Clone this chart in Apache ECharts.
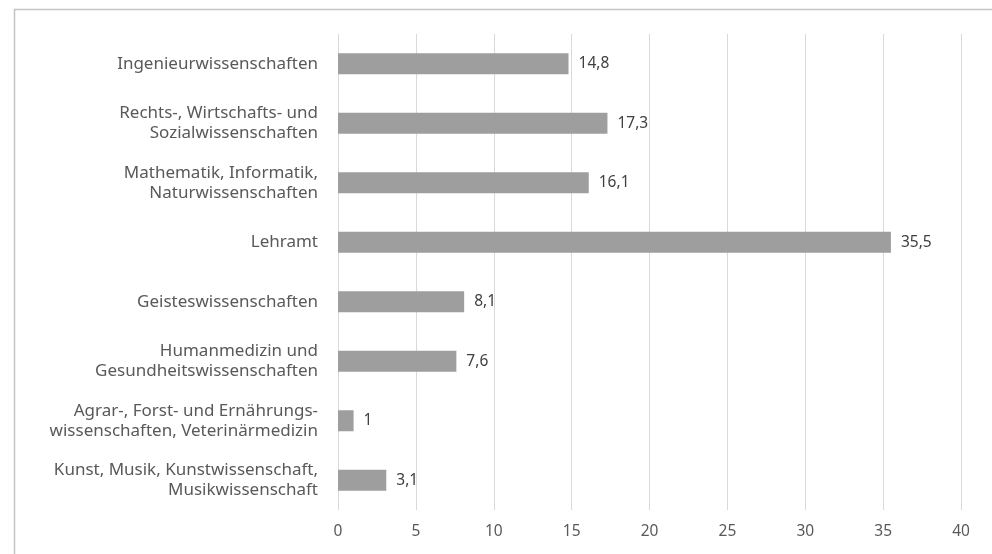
<!DOCTYPE html>
<html>
<head>
<meta charset="utf-8">
<script src="https://cdn.jsdelivr.net/npm/echarts@6/dist/echarts.min.js"></script>
<style>
html,body{margin:0;padding:0;background:#fff;}
#c{width:992px;height:554px;}
</style>
</head>
<body>
<div id="c"></div>
<script>
const categories = [
  "Ingenieurwissenschaften",
  "Rechts-, Wirtschafts- und\nSozialwissenschaften",
  "Mathematik, Informatik,\nNaturwissenschaften",
  "Lehramt",
  "Geisteswissenschaften",
  "Humanmedizin und\nGesundheitswissenschaften",
  "Agrar-, Forst- und Ernährungs-\nwissenschaften, Veterinärmedizin",
  "Kunst, Musik, Kunstwissenschaft,\nMusikwissenschaft"
];
const values = [14.8, 17.3, 16.1, 35.5, 8.1, 7.6, 1, 3.1];
const xTicks = [0, 5, 10, 15, 20, 25, 30, 35, 40];

const font = "'Source Sans Pro', 'Noto Sans', sans-serif";
const chart = echarts.init(document.getElementById('c'), null, {renderer: 'canvas'});
chart.setOption({
  animation: false,
  backgroundColor: '#fff',
  graphic: [{
    type: 'rect',
    shape: {x: 14.5, y: 9.5, width: 1200, height: 800},
    style: {fill: 'none', stroke: '#c4c4c4', lineWidth: 1.5},
    silent: true
  }],
  grid: {left: 338, right: 31, top: 34, bottom: 44, containLabel: false},
  xAxis: {
    type: 'value',
    min: xTicks[0],
    max: xTicks[xTicks.length - 1],
    interval: 5,
    axisLine: {show: false},
    axisTick: {show: false},
    splitLine: {lineStyle: {color: '#d9d9d9', width: 1}},
    axisLabel: {color: '#595959', fontSize: 15.5, fontFamily: font, margin: 14}
  },
  yAxis: {
    type: 'category',
    inverse: true,
    data: categories,
    axisLine: {show: false},
    axisTick: {show: false},
    axisLabel: {color: '#595959', fontSize: 17, fontFamily: font, margin: 20, lineHeight: 20, align: 'right'}
  },
  series: [{
    type: 'bar',
    data: values,
    barWidth: 21,
    itemStyle: {color: '#9e9e9e'},
    label: {
      show: true,
      position: 'right',
      distance: 10,
      color: '#404040',
      fontSize: 15.5,
      fontFamily: font,
      formatter: p => String(p.value).replace('.', ',')
    }
  }]
});
</script>
</body>
</html>
